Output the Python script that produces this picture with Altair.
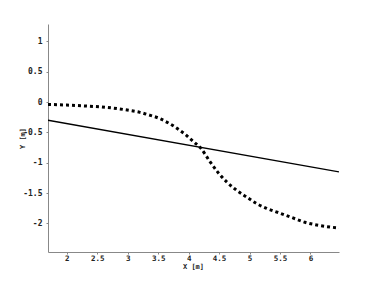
import altair as alt
import pandas as pd

curve_x = [1.69, 2.0, 2.3, 2.55, 2.84, 3.04, 3.2, 3.37, 3.52, 3.64, 3.76, 3.86, 3.94, 4.02, 4.1, 4.19,
           4.35, 4.49, 4.63, 4.79, 4.96, 5.12, 5.28, 5.47, 5.69, 5.91, 6.13, 6.47]
curve_y = [-0.04, -0.05, -0.065, -0.08, -0.11, -0.14, -0.17, -0.22, -0.27, -0.33, -0.40, -0.47, -0.53, -0.60, -0.67, -0.75,
           -0.98, -1.17, -1.32, -1.455, -1.57, -1.675, -1.75, -1.82, -1.90, -1.98, -2.03, -2.075]
line_x = [1.69, 6.47]
line_y = [-0.30, -1.15]

x_ticks = [2, 2.5, 3, 3.5, 4, 4.5, 5, 5.5, 6]
y_ticks = [-2, -1.5, -1, -0.5, 0, 0.5, 1]
x_domain = [1.69, 6.47]
y_domain = [-2.47, 1.285]

curve = pd.DataFrame({"x": curve_x, "y": curve_y})
line = pd.DataFrame({"x": line_x, "y": line_y})

font = "DejaVu Sans Mono"
label_expr = "replace(format(datum.value, '~g'), '\u2212', '-')"

xs = alt.X("x:Q", scale=alt.Scale(domain=x_domain, nice=False, zero=False),
           axis=alt.Axis(values=x_ticks, title="X [m]", grid=False, titleX=145, titleY=14,
                         titleBaseline="middle", labelFlush=False, labelExpr=label_expr,
                         labelPadding=0, labelFontSize=7.5))
ys = alt.Y("y:Q", scale=alt.Scale(domain=y_domain, nice=False, zero=False),
           axis=alt.Axis(values=y_ticks, title="Y [m]", grid=False, titleX=-26, titleY=114,
                         titleAngle=270, titleBaseline="middle", titleAlign="center",
                         labelFlush=False, labelExpr=label_expr, labelPadding=4))

solid = alt.Chart(line).mark_line(color="black", strokeWidth=1.3, clip=True).encode(x=xs, y=ys)
dotted = alt.Chart(curve).mark_line(color="black", strokeWidth=3, strokeDash=[3, 3],
                                    interpolate="monotone", clip=True).encode(x=xs, y=ys)

chart = (solid + dotted).properties(
    width=291, height=228,
    autosize=alt.AutoSizeParams(type="none"),
    padding={"left": 40, "top": 16, "right": 27, "bottom": 26},
).configure_view(stroke=None).configure_axis(
    labelFont=font, titleFont=font, labelFontSize=8, titleFontSize=7,
    labelFontWeight="bold", titleFontWeight="bold",
    labelColor="#222", titleColor="#222",
    domainColor="#888", tickColor="#888", tickSize=2,
)

chart.save("out.html", embed_options={"renderer": "svg", "actions": False})
